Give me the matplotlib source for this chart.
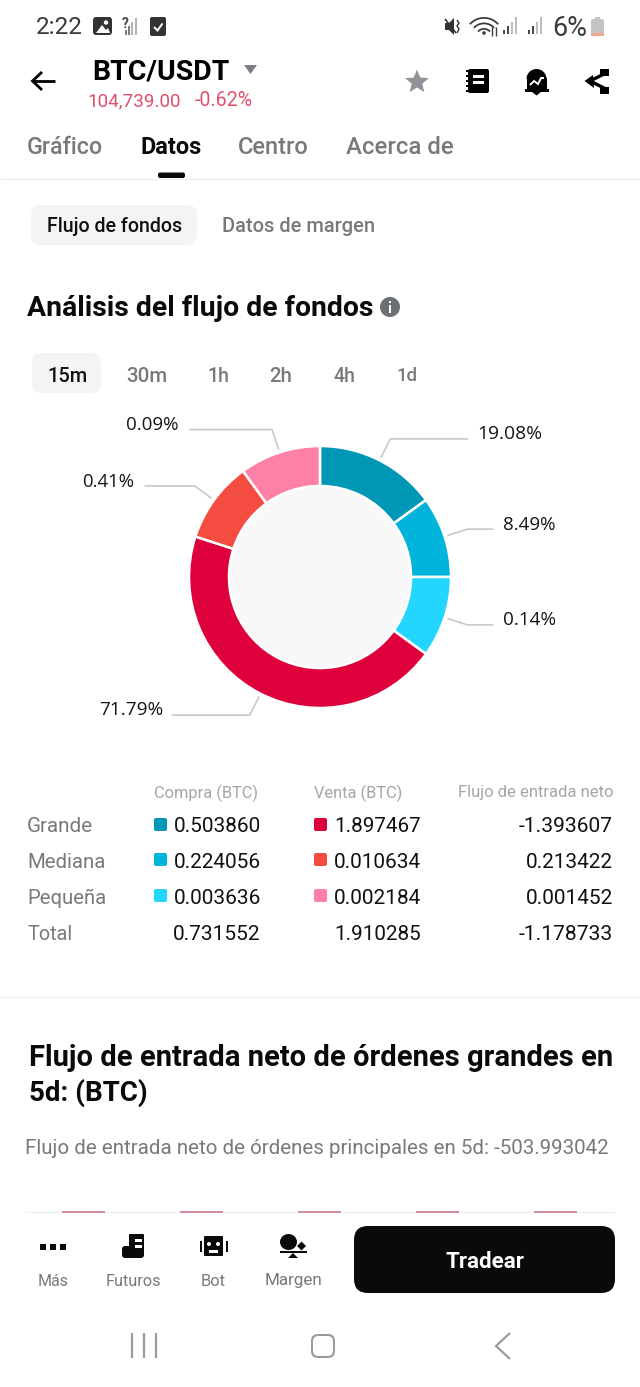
import numpy as np
import matplotlib
matplotlib.use("Agg")
import matplotlib.pyplot as plt
from matplotlib.patches import Rectangle, FancyBboxPatch, Circle, Polygon, Ellipse, Wedge

W, H = 640, 1387

# ---------- data ----------
slice_labels = ["19.08%", "8.49%", "0.14%", "71.79%", "0.41%", "0.09%"]
# the donut draws with a minimum slice size, so its arcs differ from the printed percentages
slice_shares = [15, 10, 10, 45, 10, 10]
slice_colors = ["#0096b6", "#00b4db", "#22d6ff", "#de003a", "#f44c40", "#ff80a5"]

row_names = ["Grande", "Mediana", "Pequeña", "Total"]
buy_values = [0.503860, 0.224056, 0.003636, 0.731552]
sell_values = [1.897467, 0.010634, 0.002184, 1.910285]
net_values = [-1.393607, 0.213422, 0.001452, -1.178733]

tabs = ["Gráfico", "Datos", "Centro", "Acerca de"]
periods = ["15m", "30m", "1h", "2h", "4h", "1d"]
nav_labels = ["Más", "Futuros", "Bot", "Margen"]

# ---------- canvas ----------
fig = plt.figure(figsize=(W / 100, H / 100), dpi=100, facecolor="white")
ui = fig.add_axes([0, 0, 1, 1])
ui.set_xlim(0, W)
ui.set_ylim(H, 0)
ui.axis("off")
renderer = fig.canvas.get_renderer()

SANS = "Roboto"
GREY = "#77797d"
INK = "#0c0c0c"


def T(x0, x1, y, s, color=INK, weight="normal", family=SANS, ha="left", dy=2):
    """Text fitted to the horizontal span x0..x1 (pixels)."""
    anchor = {"left": x0, "right": x1, "center": (x0 + x1) / 2}[ha]
    t = ui.text(anchor, y + dy, s, color=color, fontweight=weight, family=family,
                ha=ha, va="center", fontsize=12)
    w = t.get_window_extent(renderer).width
    t.set_fontsize(12 * (x1 - x0) / w)
    return t


def box(x0, y0, x1, y1, r, color):
    ui.add_patch(FancyBboxPatch((x0 + r, y0 + r), x1 - x0 - 2 * r, y1 - y0 - 2 * r,
                                boxstyle=f"round,pad={r},rounding_size={r}",
                                fc=color, ec="none"))


def rect(x0, y0, x1, y1, color):
    ui.add_patch(Rectangle((x0, y0), x1 - x0, y1 - y0, fc=color, ec="none"))


def line(xs, ys, color=INK, lw=1.0, cap="butt"):
    ui.plot(xs, ys, color=color, lw=lw, solid_capstyle=cap, solid_joinstyle="miter")


# ---------- status bar ----------
T(36, 83, 26, "2:22", "#3a3a3a")
box(93, 17, 112, 35, 3, "#333333")
ui.add_patch(Circle((106, 22.5), 2.2, fc="white"))
ui.add_patch(Polygon([[96, 33], [102, 25], [106, 30], [108, 28], [110, 33]], fc="white"))
T(122, 129, 22, "?", "#444444", "bold")
for i, h in enumerate([5, 9, 13, 17]):
    rect(125 + i * 3.2, 35 - h, 127 + i * 3.2, 35, "#b5b5b5" if i > 1 else "#7d7d7d")
box(150, 17, 166, 36, 2, "#333333")
line([154, 157.5, 162.5], [27, 30.5, 23.5], "white", 1.4)

ui.add_patch(Polygon([[445, 23], [449, 23], [454, 18], [454, 35], [449, 30], [445, 30]], fc="#333333"))
line([445, 456], [19, 33], "#333333", 1.2)
line([457, 459, 457, 459, 457], [20, 23, 26, 29, 33], "#333333", 1.0)
for r in (20, 14.5, 9):
    ui.add_patch(Wedge((484, 37), r, 222, 318, width=1.8, fc="#3c3c3c"))
ui.add_patch(Circle((484, 33), 1.8, fc="#3c3c3c"))
line([492, 492], [27, 36], "#3c3c3c", 1.0)
line([496, 496], [27, 36], "#3c3c3c", 1.0)
for x0 in (503, 528):
    for i, h in enumerate([4, 8, 12, 17]):
        rect(x0 + i * 4, 34 - h, x0 + 1.8 + i * 4, 34, "#4a4a4a" if i < 2 else "#bdbdbd")
T(552, 587, 26, "6%", "#3a3a3a")
box(591, 19, 604, 36, 2, "#c4c4c4")
rect(595, 17, 600, 19, "#c4c4c4")
rect(591, 32.5, 604, 36, "#f2a48f")

# ---------- header ----------
line([33, 55], [81, 81], "#000000", 2.0)
line([42, 32.5, 42], [72, 81, 90], "#000000", 2.0)
T(92, 229, 70, "BTC/USDT", "#000000", "bold")
ui.add_patch(Polygon([[244, 65], [257, 65], [250.5, 74]], fc="#7d7f84"))
T(87, 180, 100, "104,739.00", "#e0506c", dy=1)
T(195, 253, 100, "-0.62%", "#e0506c", dy=1)

star_r = [12.5 if i % 2 == 0 else 5.5 for i in range(10)]
star_a = np.deg2rad(np.arange(10) * 36)
ui.add_patch(Polygon(np.c_[417 + np.array(star_r) * np.sin(star_a),
                           82 - np.array(star_r) * np.cos(star_a)], fc="#8f9296"))
box(468, 69, 489, 93, 2, "#000000")
for y in (71, 76, 81, 86, 91):
    rect(465.5, y - 0.8, 469, y + 0.8, "#000000")
rect(473, 75, 484, 78, "white")
rect(473, 81, 484, 84, "white")
ui.add_patch(Wedge((536.5, 79), 10, 180, 360, fc="#000000"))
rect(526.5, 78, 546.5, 90, "#000000")
rect(524.5, 89, 548.5, 92, "#000000")
ui.add_patch(Polygon([[532, 92], [541, 92], [536.5, 95.5]], fc="#000000"))
line([530, 534, 538, 541, 544], [85, 81, 84, 78, 78], "white", 1.4)
line([608, 590, 608], [72, 81, 90], "#000000", 2.4)
rect(600, 69, 609, 76, "#000000")
rect(600, 87, 609, 94, "#000000")
ui.add_patch(Polygon([[584.5, 81], [593, 75], [594, 88]], fc="#000000"))

# ---------- tabs ----------
tab_spans = [(27, 103), (140, 201), (238, 309), (346, 453)]
for name, (a, b) in zip(tabs, tab_spans):
    active = name == "Datos"
    T(a, b, 146, name, "#0a0a0a" if active else GREY, "bold" if active else "medium", dy=1.5)
box(158, 172.5, 185, 178, 2, "#0a0a0a")
line([0, W], [178.5, 178.5], "#f0f0f0", 1.0)

box(31, 205, 197, 245, 10, "#f3f4f6")
T(47, 182, 225, "Flujo de fondos", "#111111", "medium")
T(222, 374, 225, "Datos de margen", GREY, "medium")

# ---------- section title ----------
T(27, 372, 307, "Análisis del flujo de fondos", "#0a0a0a", "bold")
ui.add_patch(Circle((390, 307), 10, fc="#6c7075"))
rect(388.7, 305, 391.3, 313, "white")
rect(388.7, 301, 391.3, 303.4, "white")

box(32, 353, 101, 393, 9, "#f3f4f6")
period_spans = [(47, 87), (126, 167), (207, 229), (269, 292), (333, 355), (396, 417)]
for i, (p, (a, b)) in enumerate(zip(periods, period_spans)):
    T(a, b, 374, p, "#111111" if i == 0 else GREY, "medium")

# ---------- donut ----------
cx, cy, R = 320, 577, 131
dn = fig.add_axes([(cx - R) / W, 1 - (cy + R) / H, 2 * R / W, 2 * R / H])
wedges, _ = dn.pie(slice_shares, colors=slice_colors, startangle=90, counterclock=False,
                   radius=1, wedgeprops=dict(width=0.305, edgecolor="white", linewidth=1.8))
dn.set_xlim(-1, 1)
dn.set_ylim(-1, 1)
dn.add_patch(Circle((0, 0), 0.695, fc="#f8f8f8", ec="none", zorder=0))

shares = np.array(slice_shares, dtype=float)
mids = (np.cumsum(shares) - shares / 2) / shares.sum() * 2 * np.pi
leader_len = [78, 26, 26, 78, 50, 83]
label_span = [(477, 542), (503, 556), (503, 556), (99, 163), (82, 134), (126, 179)]
label_y = [432, 523, 618, 708, 480, 423]
for m, lab, ll, (a, b), ly in zip(mids, slice_labels, leader_len, label_span, label_y):
    sx, sy = np.sin(m), -np.cos(m)
    x1, y1 = cx + 134 * sx, cy + 134 * sy
    x2, y2 = cx + 155 * sx, cy + 155 * sy
    x3 = x2 + ll * np.sign(sx)
    line([x1, x2, x3], [y1, y2, y2], "#c8c8c8", 1.2)
    T(a, b, ly, lab, "#151515", family="Open Sans", dy=2)

# ---------- table ----------
T(154, 258, 792, "Compra (BTC)", "#a3a5a8", dy=1)
T(314, 402, 792, "Venta (BTC)", "#a3a5a8", dy=1)
T(458, 613, 792, "Flujo de entrada neto", "#a3a5a8", dy=1)
row_y = [825, 860, 896, 932]
row_spans = [(27, 93), (27, 105), (27, 106), (27, 72)]
for i, name in enumerate(row_names):
    y = row_y[i]
    T(*row_spans[i], y, name, GREY)
    T(174, 261, y, f"{buy_values[i]:.6f}", "#111111", ha="right")
    T(334 if sell_values[i] < 1 else 335, 421, y, f"{sell_values[i]:.6f}", "#111111", ha="right")
    s = f"{net_values[i]:.6f}"
    T(519 if net_values[i] < 0 else 526, 613, y, s, "#111111", ha="right")
    if i < 3:
        box(154, y - 7, 167, y + 6, 2, slice_colors[i])
        box(314, y - 7, 327, y + 6, 2, slice_colors[3 + i])

line([0, W], [997, 997], "#f1f1f1", 1.0)

# ---------- second section ----------
T(29, 610, 1057, "Flujo de entrada neto de órdenes grandes en", "#0a0a0a", "bold", dy=1)
T(29, 147, 1092, "5d: (BTC)", "#0a0a0a", "bold", dy=1)
T(25, 608, 1148, "Flujo de entrada neto de órdenes principales en 5d: -503.993042", GREY, dy=1)

# ---------- bottom bar ----------
line([25, 615], [1212, 1212], "#f0f0f0", 1.0)
for k in range(5):
    line([62 + k * 118, 105 + k * 118], [1212, 1212], "#d0788a", 1.2)

for x in (43, 53, 63):
    rect(x - 3, 1243.5, x + 3, 1249.5, "#0a0a0a")
box(122, 1246, 144, 1258, 3, "#0a0a0a")
box(129, 1234, 144, 1252, 1, "#0a0a0a")
rect(135, 1239, 142, 1241.5, "white")
rect(135, 1245, 142, 1247.5, "white")
box(204, 1236, 223, 1256, 1, "#0a0a0a")
rect(199.5, 1241, 201.5, 1252, "#0a0a0a")
rect(225.5, 1241, 227.5, 1252, "#0a0a0a")
ui.add_patch(Circle((209, 1244), 2, fc="white"))
ui.add_patch(Circle((218, 1244), 2, fc="white"))
rect(209, 1250, 218, 1252.5, "white")
ui.add_patch(Ellipse((288.5, 1242), 17, 16, fc="#0a0a0a"))
ui.add_patch(Polygon([[301.5, 1241.5], [306, 1246], [301.5, 1250.5], [297, 1246]], fc="#0a0a0a"))
rect(280, 1251, 307, 1253, "#0a0a0a")
ui.add_patch(Polygon([[293, 1253], [298, 1258], [288, 1258]], fc="#0a0a0a"))

nav_spans = [(38, 69), (106, 161), (201, 226), (265, 323)]
for lab, (a, b) in zip(nav_labels, nav_spans):
    T(a, b, 1280, lab, GREY, dy=1)

box(354, 1226, 615, 1293, 14, "#090b0b")
T(446, 524, 1260, "Tradear", "white", "bold")

# ---------- system navigation ----------
for x in (132, 144, 156):
    line([x, x], [1333, 1358], "#9b9b9b", 1.6)
box(311, 1334, 335, 1358, 7, "#9b9b9b")
box(313, 1336, 333, 1356, 5.5, "white")
line([510, 496, 510], [1333, 1346, 1359], "#9b9b9b", 1.6)

fig.savefig("out.png", dpi=100, facecolor="white")
